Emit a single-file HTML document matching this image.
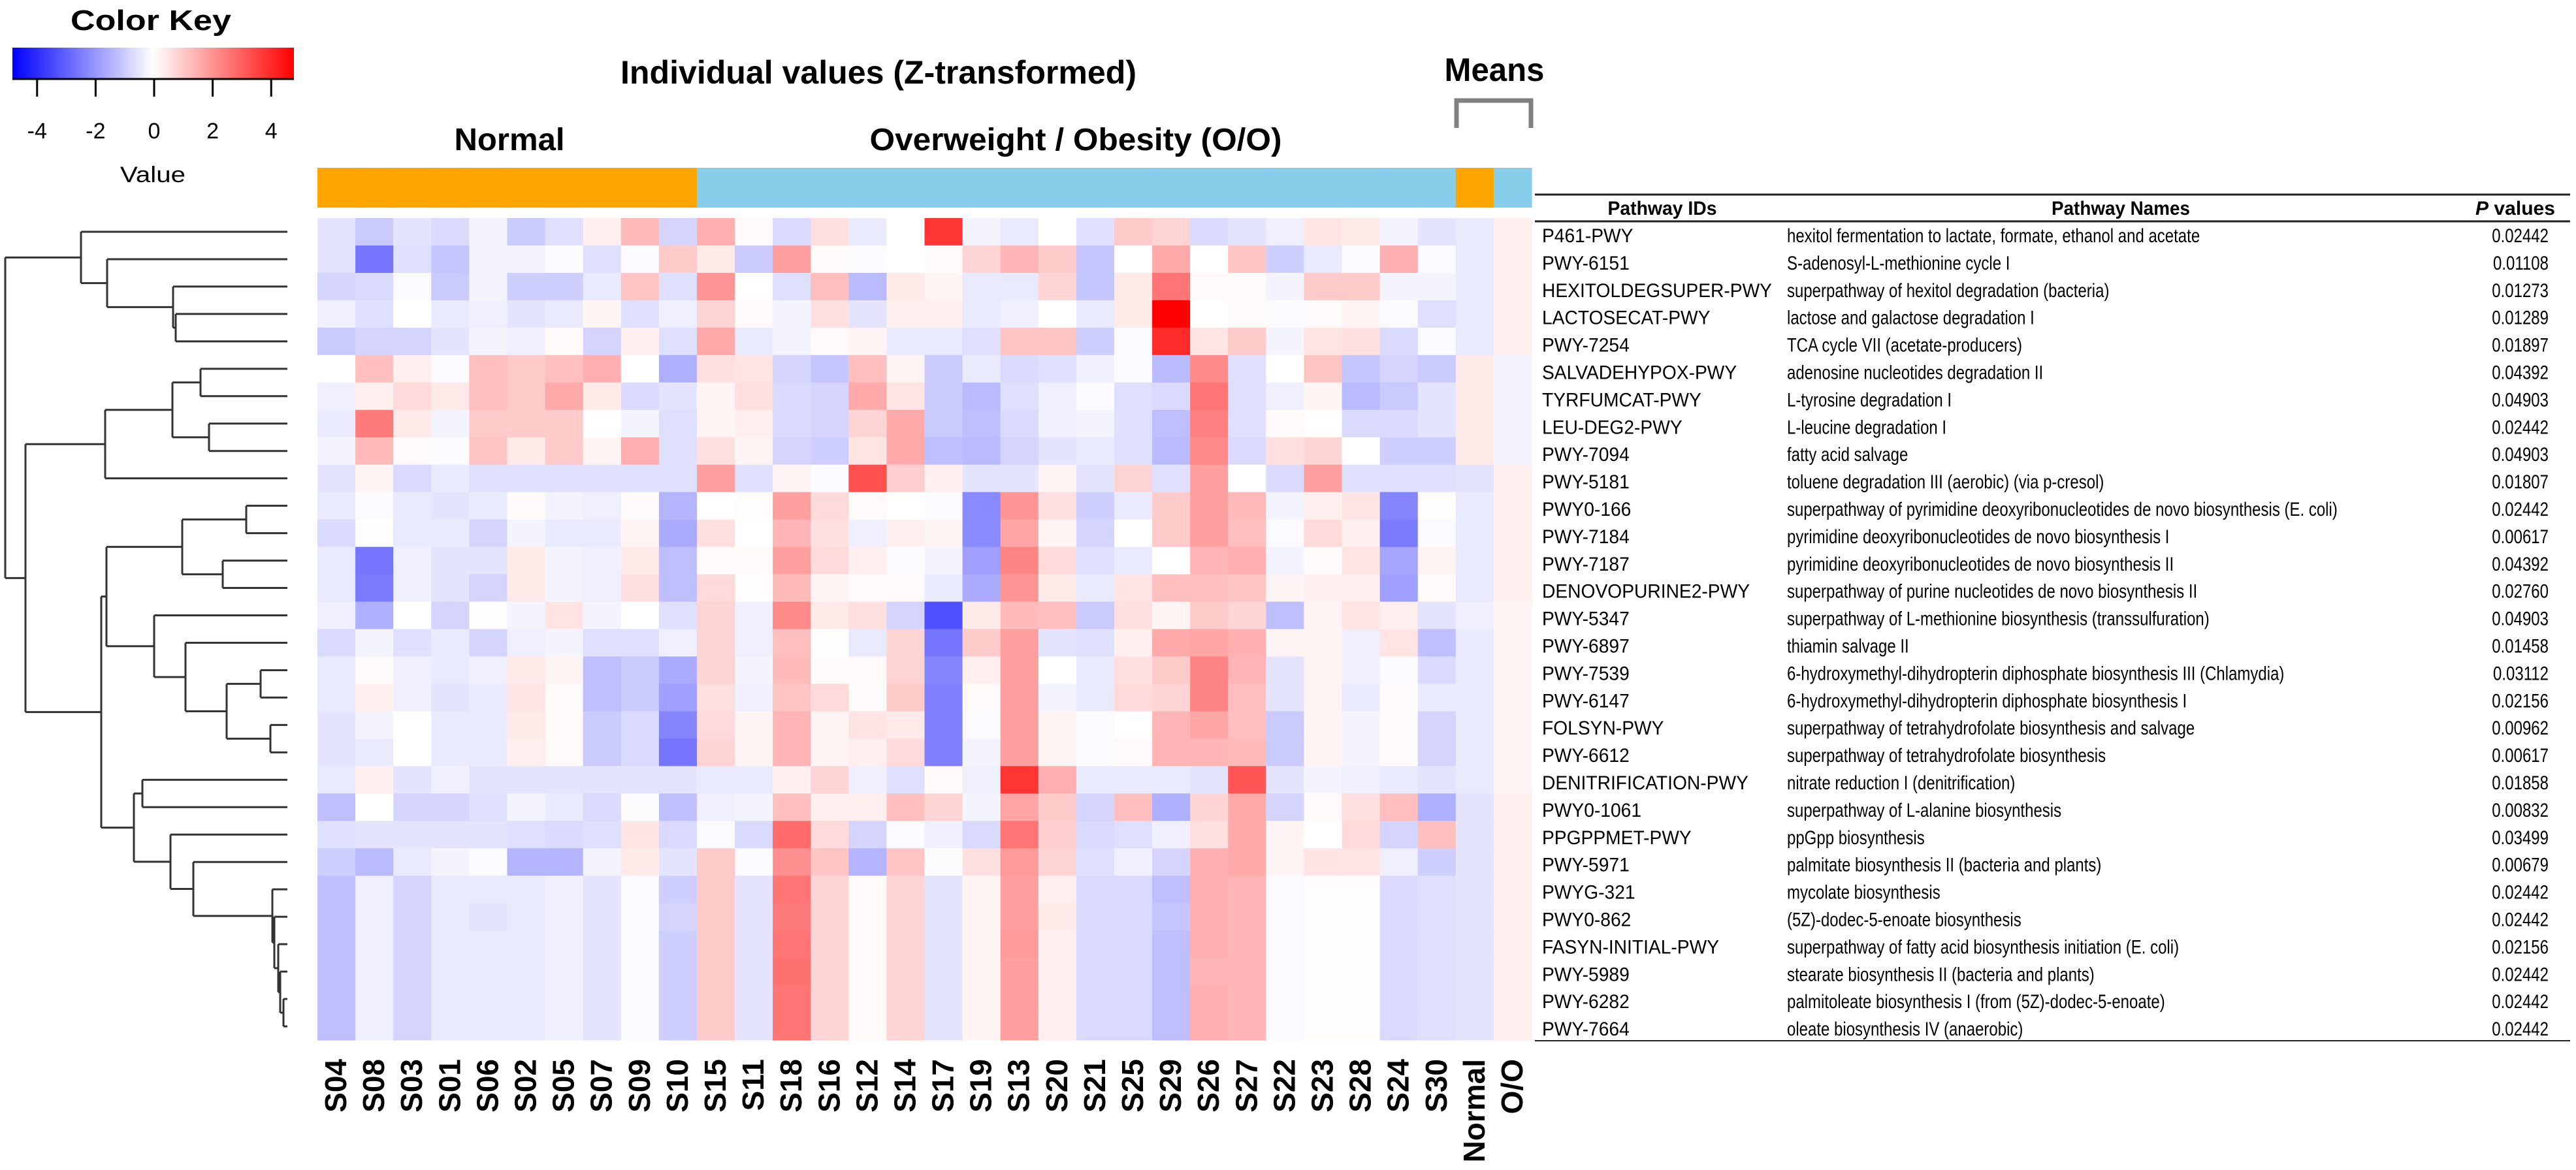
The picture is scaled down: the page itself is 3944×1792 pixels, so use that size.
<!DOCTYPE html>
<html><head><meta charset="utf-8"><style>
html,body{margin:0;padding:0;background:#fff;}
svg{display:block;font-family:"Liberation Sans",sans-serif;}
</style></head><body>
<svg id="chart" width="3944" height="1792" viewBox="0 0 3944 1792" xmlns="http://www.w3.org/2000/svg">
<defs>
<linearGradient id="keygrad" x1="0" x2="1" y1="0" y2="0">
<stop offset="0" stop-color="#0000ff"/><stop offset="0.5" stop-color="#ffffff"/><stop offset="1" stop-color="#ff0000"/>
</linearGradient>
</defs>
<g>
<text x="231" y="46" font-size="44" font-weight="bold" text-anchor="middle" textLength="246" lengthAdjust="spacingAndGlyphs">Color Key</text>
<rect x="19" y="73" width="431" height="48" fill="url(#keygrad)"/>
<line x1="19" y1="121" x2="450" y2="121" stroke="#000" stroke-width="3"/>
<g id="keyticks"></g>
<text x="234" y="279" font-size="34" text-anchor="middle" textLength="100" lengthAdjust="spacingAndGlyphs">Value</text>
</g>
<text x="1345" y="128" font-size="50" font-weight="bold" text-anchor="middle" textLength="790" lengthAdjust="spacingAndGlyphs">Individual values (Z-transformed)</text>
<text x="2288" y="124" font-size="50" font-weight="bold" text-anchor="middle" textLength="153" lengthAdjust="spacingAndGlyphs">Means</text>
<path d="M2230 196 V154 H2344 V196" fill="none" stroke="#808080" stroke-width="7"/>
<text x="780" y="230" font-size="48" font-weight="bold" text-anchor="middle" textLength="169" lengthAdjust="spacingAndGlyphs">Normal</text>
<text x="1647" y="230" font-size="48" font-weight="bold" text-anchor="middle" textLength="631" lengthAdjust="spacingAndGlyphs">Overweight / Obesity (O/O)</text>
<g id="groupbar"></g>
<g id="cells"></g>
<g id="collabels"></g>
<g id="dendro"></g>
<g id="table">
<line x1="2350" y1="298" x2="3935" y2="298" stroke="#222" stroke-width="3"/>
<line x1="2350" y1="339" x2="3935" y2="339" stroke="#222" stroke-width="3"/>
<line x1="2350" y1="1594" x2="3935" y2="1594" stroke="#222" stroke-width="2"/>
<text x="2545" y="329" font-size="30" font-weight="bold" text-anchor="middle" textLength="167" lengthAdjust="spacingAndGlyphs">Pathway IDs</text>
<text x="3247" y="329" font-size="30" font-weight="bold" text-anchor="middle" textLength="212" lengthAdjust="spacingAndGlyphs">Pathway Names</text>
<text x="3851" y="329" font-size="30" font-weight="bold" text-anchor="middle" textLength="122" lengthAdjust="spacingAndGlyphs"><tspan font-style="italic">P</tspan> values</text>
<g id="tablerows"></g>
</g>
</svg>
<script>
const columns = ["S04","S08","S03","S01","S06","S02","S05","S07","S09","S10","S15","S11","S18","S16","S12","S14","S17","S19","S13","S20","S21","S25","S29","S26","S27","S22","S23","S28","S24","S30","Normal","O/O"];
const groups = ["N","N","N","N","N","N","N","N","N","N","O","O","O","O","O","O","O","O","O","O","O","O","O","O","O","O","O","O","O","O","N","O"];
const pathwayIds = ["P461-PWY","PWY-6151","HEXITOLDEGSUPER-PWY","LACTOSECAT-PWY","PWY-7254","SALVADEHYPOX-PWY","TYRFUMCAT-PWY","LEU-DEG2-PWY","PWY-7094","PWY-5181","PWY0-166","PWY-7184","PWY-7187","DENOVOPURINE2-PWY","PWY-5347","PWY-6897","PWY-7539","PWY-6147","FOLSYN-PWY","PWY-6612","DENITRIFICATION-PWY","PWY0-1061","PPGPPMET-PWY","PWY-5971","PWYG-321","PWY0-862","FASYN-INITIAL-PWY","PWY-5989","PWY-6282","PWY-7664"];
const pathwayNames = ["hexitol fermentation to lactate, formate, ethanol and acetate","S-adenosyl-L-methionine cycle I","superpathway of hexitol degradation (bacteria)","lactose and galactose degradation I","TCA cycle VII (acetate-producers)","adenosine nucleotides degradation II","L-tyrosine degradation I","L-leucine degradation I","fatty acid salvage","toluene degradation III (aerobic) (via p-cresol)","superpathway of pyrimidine deoxyribonucleotides de novo biosynthesis (E. coli)","pyrimidine deoxyribonucleotides de novo biosynthesis I","pyrimidine deoxyribonucleotides de novo biosynthesis II","superpathway of purine nucleotides de novo biosynthesis II","superpathway of L-methionine biosynthesis (transsulfuration)","thiamin salvage II","6-hydroxymethyl-dihydropterin diphosphate biosynthesis III (Chlamydia)","6-hydroxymethyl-dihydropterin diphosphate biosynthesis I","superpathway of tetrahydrofolate biosynthesis and salvage","superpathway of tetrahydrofolate biosynthesis","nitrate reduction I (denitrification)","superpathway of L-alanine biosynthesis","ppGpp biosynthesis","palmitate biosynthesis II (bacteria and plants)","mycolate biosynthesis","(5Z)-dodec-5-enoate biosynthesis","superpathway of fatty acid biosynthesis initiation (E. coli)","stearate biosynthesis II (bacteria and plants)","palmitoleate biosynthesis I (from (5Z)-dodec-5-enoate)","oleate biosynthesis IV (anaerobic)"];
const pValues = ["0.02442","0.01108","0.01273","0.01289","0.01897","0.04392","0.04903","0.02442","0.04903","0.01807","0.02442","0.00617","0.04392","0.02760","0.04903","0.01458","0.03112","0.02156","0.00962","0.00617","0.01858","0.00832","0.03499","0.00679","0.02442","0.02442","0.02156","0.02442","0.02442","0.02442"];
const keyTicks = [-4,-2,0,2,4];
const values = [
[-0.5,-1.0,-0.5,-0.7,-0.2,-1.0,-0.6,0.3,1.3,-0.8, 1.5,0.1,-0.7,0.6,-0.4,0,3.8,-0.2,-0.4,0,-0.6,1.0,0.8,-0.7,-0.5,-0.3,0.5,0.4,-0.2,-0.5, -0.4,0.3],
[-0.5,-2.6,-0.6,-1.1,-0.2,-0.2,-0.1,-0.6,-0.1,1.0, 0.4,-1.0,1.8,0.1,-0.1,0,0.1,0.8,1.4,1.0,-1.1,0,1.6,0,1.1,-0.9,-0.4,-0.1,1.5,-0.1, -0.4,0.3],
[-0.8,-0.7,-0.1,-1.0,-0.2,-0.9,-0.9,-0.4,1.1,-0.6, 2.0,0,-0.6,1.2,-1.3,0.4,0.2,-0.4,-0.4,0.8,-1.1,0.4,2.6,0.1,0.1,-0.2,1.0,1.0,-0.2,-0.2, -0.4,0.3],
[-0.3,-0.6,0,-0.4,-0.3,-0.5,-0.4,0.2,-0.6,-0.3, 0.8,0.1,-0.2,0.6,-0.5,0.3,0.3,-0.4,-0.3,0,-0.4,0.4,5.0,0,0.1,-0.1,0.1,0.2,-0.1,-0.6, -0.4,0.3],
[-1.0,-0.8,-0.8,-0.5,-0.2,-0.3,0.1,-0.8,0.3,-0.6, 1.6,-0.4,-0.2,0.1,0.2,-0.4,-0.4,-0.6,1.1,1.1,-0.9,-0.1,4.0,0.5,1.0,-0.2,0.5,0.6,-0.7,-0.1, -0.4,0.3],
[0,1.2,0.3,-0.1,1.2,1.0,1.2,1.5,0,-1.5, 0.6,0.5,-0.8,-1.1,1.2,0.2,-1.0,-0.4,-0.7,-0.6,-0.3,-0.1,-1.3,2.2,-0.6,0,1.1,-1.1,-0.8,-1.0, 0.4,-0.2],
[-0.3,0.3,0.7,0.4,1.2,1.0,1.6,0.4,-0.7,-0.5, 0.2,0.6,-0.7,-0.8,1.6,0.5,-1.0,-1.3,-0.6,-0.3,-0.1,-0.6,-0.7,2.6,-0.6,-0.3,0.2,-1.3,-1.0,-0.5, 0.4,-0.2],
[-0.4,2.5,0.4,-0.2,1.0,1.0,1.0,0,-0.2,-0.6, 0.2,0.3,-0.7,-0.8,0.8,1.6,-1.0,-1.2,-0.7,-0.3,-0.2,-0.6,-1.2,2.4,-0.6,0.1,0,-0.7,-0.7,-0.5, 0.4,-0.2],
[-0.2,1.3,0.1,-0.1,1.1,0.4,1.0,0.2,1.5,-0.6, 0.6,0.2,-0.8,-0.9,0.5,1.6,-1.2,-1.3,-0.8,-0.5,-0.4,-0.6,-1.3,2.2,-0.7,0.6,0.8,0,-0.9,-0.9, 0.4,-0.2],
[-0.5,0.2,-0.7,-0.4,-0.6,-0.6,-0.6,-0.6,-0.6,-0.6, 1.8,-0.6,0.2,-0.1,3.3,0.9,0.3,-0.5,-0.5,0.2,-0.5,0.8,-0.6,1.8,0,-0.7,1.8,-0.6,-0.6,-0.6, -0.5,0.3],
[-0.4,-0.1,-0.4,-0.5,-0.4,0.1,-0.2,-0.3,0.1,-1.4, 0,0.05,1.8,0.7,0.1,0,-0.1,-2.2,2.0,0.6,-0.9,-0.4,1.0,1.8,1.3,-0.2,0.3,0.5,-2.3,0.05, -0.4,0.3],
[-0.7,0.05,-0.4,-0.4,-0.8,-0.2,-0.4,-0.4,0.2,-1.6, 0.6,0,1.4,0.6,-0.3,0.3,0.2,-2.2,1.7,0.2,-0.8,0,1.0,1.8,1.2,-0.1,0.7,0.3,-2.5,-0.1, -0.4,0.3],
[-0.4,-2.6,-0.3,-0.5,-0.5,0.4,-0.2,-0.3,0.4,-1.2, 0.1,0.1,1.8,0.7,0.3,-0.1,-0.2,-1.8,2.3,0.7,-0.6,-0.4,0,1.4,1.5,-0.2,0.1,0.5,-1.7,0.2, -0.4,0.3],
[-0.4,-2.5,-0.3,-0.5,-0.8,0.4,-0.2,-0.3,0.6,-1.2, 0.7,0.05,1.3,0.2,0.1,0.1,-0.4,-1.6,2.0,0.4,-0.4,0.5,1.2,1.2,1.1,0.2,0.3,0.3,-1.8,0.1, -0.4,0.3],
[-0.3,-1.5,0,-0.8,0.05,-0.2,0.5,-0.2,0,-0.6, 0.8,-0.3,2.2,0.4,0.6,-0.8,-3.3,0.4,1.3,1.2,-1.0,0.6,0.2,1.0,0.8,-1.2,0.2,0.5,0.3,-0.5, -0.3,0.2],
[-0.7,-0.2,-0.6,-0.4,-0.8,-0.3,-0.2,-0.6,-0.6,-0.3, 0.8,-0.3,1.2,0.05,-0.4,0.8,-2.6,1.0,1.8,-0.5,-0.6,0.3,1.6,1.7,1.5,0.2,0.2,-0.3,0.5,-1.2, -0.4,0.2],
[-0.4,0.1,-0.3,-0.4,-0.3,0.4,0.2,-1.2,-1.0,-1.6, 0.8,-0.2,1.3,0.1,0.1,0.8,-2.3,0.3,1.8,0,-0.4,0.6,1.0,2.3,1.4,-0.5,0.2,-0.3,-0.1,-0.7, -0.4,0.2],
[-0.4,0.3,-0.3,-0.5,-0.4,0.5,0.1,-1.2,-1.0,-1.8, 0.6,-0.3,1.1,0.7,0.1,1.0,-2.4,0.1,1.8,-0.2,-0.4,0.7,0.8,2.3,1.2,-0.5,0.2,-0.4,0.1,-0.4, -0.4,0.2],
[-0.5,-0.2,0,-0.4,-0.4,0.4,0.1,-1.0,-0.7,-2.3, 0.7,0.2,1.4,0.2,0.5,0.4,-2.4,-0.1,1.8,0.2,-0.1,0,1.4,1.7,1.2,-1.0,0.2,-0.2,0.1,-0.8, -0.4,0.2],
[-0.5,-0.4,0,-0.4,-0.4,0.3,0.1,-1.0,-0.7,-2.6, 0.8,0.2,1.4,0.2,0.3,0.7,-2.4,-0.2,1.8,0.2,-0.1,0.1,1.4,1.4,1.3,-1.0,0.2,-0.2,0.1,-0.8, -0.4,0.2],
[-0.4,0.3,-0.5,-0.3,-0.5,-0.5,-0.5,-0.5,-0.5,-0.5, -0.4,-0.4,0.3,0.8,-0.3,-0.6,0.1,-0.3,3.8,1.5,-0.4,-0.4,-0.4,-0.5,3.2,-0.5,-0.2,-0.3,-0.4,-0.5, -0.4,0.2],
[-1.2,0,-0.8,-0.8,-0.6,-0.2,-0.4,-0.7,-0.05,-1.2, -0.3,-0.2,1.2,0.3,0.3,1.2,0.8,-0.2,1.7,1.0,-0.8,1.2,-1.5,0.8,1.6,-0.8,0.1,0.6,1.2,-1.5, -0.5,0.3],
[-0.6,-0.5,-0.5,-0.5,-0.5,-0.6,-0.7,-0.6,0.5,-0.7, -0.1,-0.7,2.8,0.7,-0.8,-0.1,-0.3,-0.7,2.6,0.9,-0.7,-0.6,-0.3,0.6,1.6,0.2,0,0.7,-0.8,1.2, -0.5,0.3],
[-0.9,-1.3,-0.4,-0.2,-0.1,-1.4,-1.4,-0.2,0.4,-0.5, 1.0,-0.1,2.1,1.1,-1.4,1.1,-0.05,0.6,1.9,0.8,-0.6,-0.3,-0.8,1.5,1.6,0.2,0.5,0.5,-0.3,-0.9, -0.5,0.3],
[-1.2,-0.3,-0.8,-0.4,-0.4,-0.4,-0.3,-0.5,-0.1,-0.9, 1.0,-0.5,2.6,0.8,0.1,0.8,-0.5,0.2,1.8,0.3,-0.7,-0.7,-1.2,1.5,1.4,-0.1,0.05,0.05,-0.7,-0.6, -0.5,0.3],
[-1.2,-0.3,-0.8,-0.4,-0.5,-0.4,-0.3,-0.5,-0.1,-0.8, 1.0,-0.5,2.5,0.8,0.1,0.8,-0.5,0.2,1.8,0.4,-0.7,-0.7,-1.1,1.5,1.4,-0.1,0.05,0.05,-0.7,-0.6, -0.5,0.3],
[-1.2,-0.3,-0.8,-0.4,-0.4,-0.4,-0.3,-0.5,-0.1,-0.9, 1.0,-0.5,2.6,0.8,0.1,0.8,-0.5,0.2,1.9,0.3,-0.7,-0.7,-1.2,1.5,1.4,-0.1,0.05,0.05,-0.7,-0.6, -0.5,0.3],
[-1.2,-0.3,-0.8,-0.4,-0.4,-0.4,-0.3,-0.5,-0.1,-0.9, 1.0,-0.5,2.7,0.8,0.1,0.8,-0.5,0.2,1.8,0.3,-0.7,-0.7,-1.2,1.4,1.4,-0.1,0.05,0.05,-0.7,-0.6, -0.5,0.3],
[-1.2,-0.3,-0.8,-0.4,-0.4,-0.4,-0.3,-0.5,-0.1,-0.9, 1.0,-0.5,2.6,0.8,0.1,0.8,-0.5,0.2,1.8,0.3,-0.7,-0.7,-1.2,1.5,1.4,-0.1,0.05,0.05,-0.7,-0.6, -0.5,0.3],
[-1.2,-0.3,-0.8,-0.4,-0.4,-0.4,-0.3,-0.5,-0.1,-0.9, 1.0,-0.5,2.6,0.8,0.1,0.8,-0.5,0.2,1.8,0.3,-0.7,-0.7,-1.2,1.5,1.4,-0.1,0.05,0.05,-0.7,-0.6, -0.5,0.3]
];
const dendroTree = {h:8,c:[
 {h:124,c:[0,{h:164,c:[1,{h:265,c:[2,{h:269,c:[3,4]}]}]}]},
 {h:39,c:[
  {h:161,c:[{h:264,c:[{h:307,c:[5,6]},{h:320,c:[7,8]}]},9]},
  {h:155,c:[
   {h:163,c:[
     {h:279,c:[{h:377,c:[10,11]},{h:341,c:[12,13]}]},
     {h:236,c:[14,{h:284,c:[15,{h:347,c:[{h:399,c:[16,17]},{h:414,c:[18,19]}]}]}]}
   ]},
   {h:205,c:[{h:218,c:[20,21]},{h:261,c:[22,{h:296,c:[23,{h:417,c:[24,{h:420,c:[25,{h:426,c:[26,{h:429,c:[27,{h:434,c:[28,29]}]}]}]}]}]}]}]}
  ]}
 ]}
]};

const NS = "http://www.w3.org/2000/svg";
const X0 = 486, X1 = 2345, Y0 = 334, Y1 = 1593;
const cw = (X1 - X0) / columns.length, rh = (Y1 - Y0) / pathwayIds.length;
const xScale = i => X0 + i * cw;
const yScale = r => Y0 + r * rh;
const keyX = v => 236 + v * 44.8;
function color(v){
  const t = Math.min(Math.abs(v) / 4.8, 1);
  const c = Math.round(255 * (1 - t));
  return v >= 0 ? `rgb(255,${c},${c})` : `rgb(${c},${c},255)`;
}
function mk(tag, attrs, parent){
  const e = document.createElementNS(NS, tag);
  for (const k in attrs) e.setAttribute(k, attrs[k]);
  parent.appendChild(e);
  return e;
}
const kt = document.getElementById('keyticks');
keyTicks.forEach(v => {
  const l = mk('line', {x1:keyX(v), x2:keyX(v), y1:121, y2:148, stroke:'#000', 'stroke-width':3}, kt);
  
  
  const t = mk('text', {x:keyX(v), y:212, 'font-size':34, 'text-anchor':'middle'}, kt);
  t.textContent = String(v);
  
  
});
const gb = document.getElementById('groupbar');
groups.forEach((g, i) => {
  const r = mk('rect', {x:xScale(i), y:257, width:cw + 0.6, height:61, fill: g === 'N' ? '#FFA500' : '#87CEEB'}, gb);
  
  
});
const cg = document.getElementById('cells');
values.forEach((row, r) => {
  row.forEach((v, c) => {
    const rect = mk('rect', {x:xScale(c), y:yScale(r), width:cw + 0.6, height:rh + 0.6, fill:color(v)}, cg);
    
    
  });
});
const cl = document.getElementById('collabels');
columns.forEach((name, i) => {
  const cx = xScale(i) + cw / 2 + 15;
  const t = mk('text', {x:0, y:0, 'font-size':46, 'font-weight':'bold', 'text-anchor':'end', transform:`translate(${cx},1622) rotate(-90)`}, cl);
  t.textContent = name;
  
  
});
const dg = document.getElementById('dendro');
const LEAFX = 440;
function draw(node){
  if (typeof node === 'number') return {y: yScale(node) + rh / 2, x: LEAFX};
  const kids = node.c.map(draw);
  const ys = kids.map(k => k.y);
  kids.forEach(k => {
    const l = mk('line', {x1:node.h, x2:k.x, y1:k.y, y2:k.y, stroke:'#333', 'stroke-width':3}, dg);
    
    
  });
  const v = mk('line', {x1:node.h, x2:node.h, y1:Math.min(...ys), y2:Math.max(...ys), stroke:'#333', 'stroke-width':3}, dg);
  
  
  return {y: (Math.min(...ys) + Math.max(...ys)) / 2, x: node.h};
}
draw(dendroTree);
const tr = document.getElementById('tablerows');
pathwayIds.forEach((id, i) => {
  const y = 371 + i * 41.9;
  const g = mk('g', {}, tr);
  
  
  const a = mk('text', {x:0, y:0, 'font-size':30, transform:`translate(2361,${y}) scale(0.94,1)`}, g);
  a.textContent = id;
  
  
  const b = mk('text', {x:0, y:0, 'font-size':30, transform:`translate(2736,${y}) scale(0.80,1)`}, g);
  b.textContent = pathwayNames[i];
  
  
  const c = mk('text', {x:0, y:0, 'font-size':30, 'text-anchor':'end', transform:`translate(3902,${y}) scale(0.8,1)`}, g);
  c.textContent = pValues[i];
  
  
});
</script>
</body></html>
